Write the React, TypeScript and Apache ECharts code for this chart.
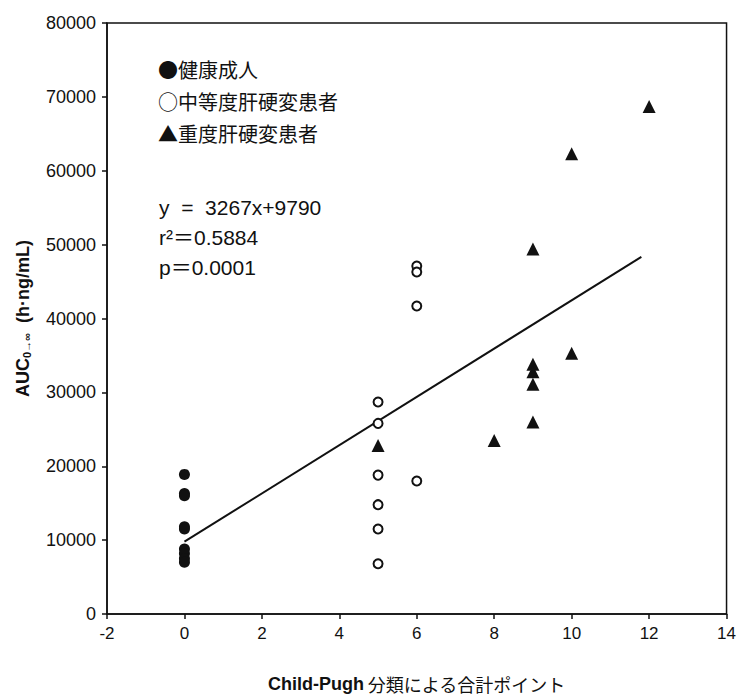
import React, { useEffect, useRef } from "react";
import * as echarts from "echarts";

// Data
const healthyX = [0, 0, 0, 0, 0, 0, 0, 0, 0];
const healthyY = [18900, 16300, 16000, 11800, 11500, 8800, 8200, 7500, 7000];

const moderateX = [5, 5, 5, 5, 5, 5, 6, 6, 6, 6];
const moderateY = [28700, 25800, 18800, 14800, 11500, 6800, 47100, 46300, 41700, 18000];

const severeX = [5, 8, 9, 9, 9, 9, 9, 10, 10, 12];
const severeY = [22800, 23500, 49400, 33800, 32800, 31100, 26000, 62300, 35300, 68700];

const regSlope = 3267;
const regIntercept = 9790;
const regX = [0, 11.8];

const xTicks = { min: -2, max: 14, interval: 2 };
const yTicks = { min: 0, max: 80000, interval: 10000 };

const legendLines = ["●健康成人", "○中等度肝硬変患者", "▲重度肝硬変患者"];
const statLines = ["y  =  3267x+9790", "r²＝0.5884", "p＝0.0001"];

const FONT = "'Liberation Sans', Arial, 'Noto Sans CJK JP', sans-serif";
const CJK = "'Noto Sans CJK JP', 'Liberation Sans', sans-serif";

export default function App() {
  const ref = useRef<HTMLDivElement>(null);
  useEffect(() => {
    if (!ref.current) return;
    const chart = echarts.init(ref.current, undefined, { renderer: "svg" });
    const zip = (xs: number[], ys: number[]) => xs.map((x, i) => [x, ys[i]]);
    const regData = regX.map((x) => [x, regSlope * x + regIntercept]);

    const graphics: any[] = [];
    legendLines.forEach((t, i) => {
      graphics.push({
        type: "text",
        left: 158,
        top: 59 + i * 32,
        style: { text: t, font: `20px ${CJK}`, fill: "#111" },
      });
    });
    statLines.forEach((t, i) => {
      graphics.push({
        type: "text",
        left: 159,
        top: 197 + i * 30,
        style: { text: t, font: `21px ${FONT}`, fill: "#111" },
      });
    });

    chart.setOption({
      animation: false,
      backgroundColor: "#fff",
      grid: {
        left: 107,
        right: 12,
        top: 23,
        bottom: 86,
        show: true,
        borderColor: "#111",
        borderWidth: 1.5,
        backgroundColor: "transparent",
      },
      xAxis: {
        type: "value",
        min: xTicks.min,
        max: xTicks.max,
        interval: xTicks.interval,
        splitLine: { show: false },
        axisLine: { show: true, onZero: false, lineStyle: { color: "#111", width: 1.5 } },
        axisTick: { show: true, length: 5, lineStyle: { color: "#111", width: 1.5 } },
        axisLabel: { color: "#111", fontSize: 17, fontFamily: FONT, margin: 11 },
        name: "{b|Child-Pugh} {j|分類による合計ポイント}",
        nameLocation: "middle",
        nameGap: 61,
        nameTextStyle: {
          rich: {
            b: { fontSize: 18, fontWeight: "bold", fontFamily: FONT, color: "#111" },
            j: { fontSize: 18, fontFamily: CJK, color: "#111" },
          },
        },
      },
      yAxis: {
        type: "value",
        min: yTicks.min,
        max: yTicks.max,
        interval: yTicks.interval,
        splitLine: { show: false },
        axisLine: { show: true, onZero: false, lineStyle: { color: "#111", width: 1.5 } },
        axisTick: { show: true, length: 5, lineStyle: { color: "#111", width: 1.5 } },
        axisLabel: {
          color: "#111",
          fontSize: 18,
          fontFamily: FONT,
          margin: 11,
          formatter: (v: number) => String(v),
        },
        name: "{a|AUC}{s|0→∞}{a|  (h·ng/mL)}",
        nameLocation: "middle",
        nameGap: 75,
        nameTextStyle: {
          rich: {
            a: { fontSize: 18, fontWeight: "bold", fontFamily: FONT, color: "#111" },
            s: { fontSize: 11, fontWeight: "bold", fontFamily: FONT, color: "#111", verticalAlign: "bottom", padding: [8, 0, 0, 0] },
          },
        },
      },
      series: [
        {
          name: "regression",
          type: "line",
          data: regData,
          showSymbol: false,
          lineStyle: { color: "#111", width: 2 },
          z: 1,
        },
        {
          name: "健康成人",
          type: "scatter",
          data: zip(healthyX, healthyY),
          symbol: "circle",
          symbolSize: 11,
          itemStyle: { color: "#111", opacity: 1 },
          z: 3,
        },
        {
          name: "中等度肝硬変患者",
          type: "scatter",
          data: zip(moderateX, moderateY),
          symbol: "circle",
          symbolSize: 9,
          itemStyle: { color: "#fff", borderColor: "#111", borderWidth: 2, opacity: 1 },
          z: 3,
        },
        {
          name: "重度肝硬変患者",
          type: "scatter",
          data: zip(severeX, severeY),
          symbol: "triangle",
          symbolSize: 13,
          itemStyle: { color: "#111", opacity: 1 },
          z: 3,
        },
      ],
      graphic: graphics,
    });
    return () => chart.dispose();
  }, []);
  return (
    <div
      ref={ref}
      style={{ position: "absolute", left: 0, top: 0, width: 739, height: 700 }}
    />
  );
}
